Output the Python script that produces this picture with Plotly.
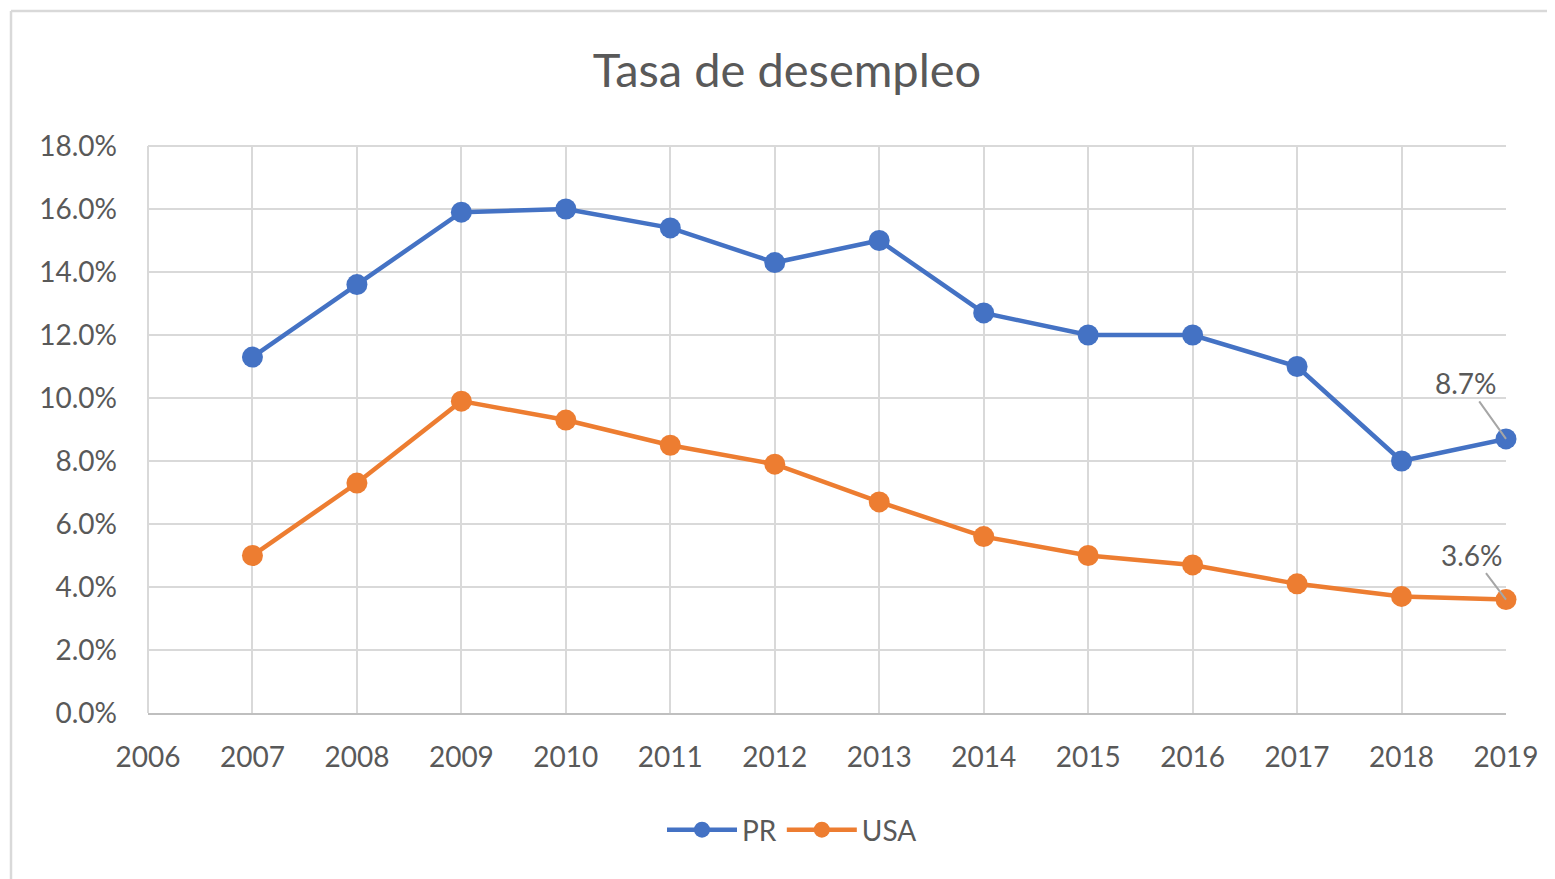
import plotly.graph_objects as go

years = [2007, 2008, 2009, 2010, 2011, 2012, 2013, 2014, 2015, 2016, 2017, 2018, 2019]
pr = [11.3, 13.6, 15.9, 16.0, 15.4, 14.3, 15.0, 12.7, 12.0, 12.0, 11.0, 8.0, 8.7]
usa = [5.0, 7.3, 9.9, 9.3, 8.5, 7.9, 6.7, 5.6, 5.0, 4.7, 4.1, 3.7, 3.6]
title = "Tasa de desempleo"
font_family = "Lato, Calibri, Carlito, sans-serif"
text_color = "#595959"

OFF = 8  # default page body margin
W, H = 1555 - OFF, 879 - OFF
L, T = 148 - OFF, 146 - OFF
R = W - (1506 - OFF)
B = H - (713 - OFF)
pw, ph = W - L - R, H - T - B

fig = go.Figure()
fig.add_trace(go.Scatter(x=years, y=pr, name="PR", mode="lines+markers",
                         line=dict(color="#4472C4", width=4.5), cliponaxis=False,
                         marker=dict(size=21, color="#4472C4")))
fig.add_trace(go.Scatter(x=years, y=usa, name="USA", mode="lines+markers",
                         line=dict(color="#ED7D31", width=4.5), cliponaxis=False,
                         marker=dict(size=21, color="#ED7D31")))

for yv, ax, ay in [(pr[-1], -40, -56), (usa[-1], -34, -45)]:
    fig.add_annotation(x=years[-1], y=yv, text=f"{yv:.1f}%", showarrow=True,
                       arrowhead=0, arrowwidth=2, arrowcolor="#a6a6a6", standoff=0,
                       ax=ax, ay=ay, font=dict(size=28, color=text_color, family=font_family))

# plot-area top and left edges
fig.add_shape(type="line", xref="paper", yref="paper", x0=0, x1=1, y0=1, y1=1,
              line=dict(color="#d9d9d9", width=2), layer="below")
fig.add_shape(type="line", xref="paper", yref="paper", x0=0, x1=0, y0=0, y1=1,
              line=dict(color="#d9d9d9", width=2), layer="below")

# outer chart border (Excel chart area)
bx0 = (11 - OFF - L) / pw
by1 = (H - B - (11 - OFF)) / ph
fig.add_shape(type="line", xref="paper", yref="paper", x0=bx0, x1=bx0, y0=by1, y1=-1,
              line=dict(color="#d9d9d9", width=2.5))
fig.add_shape(type="line", xref="paper", yref="paper", x0=bx0, x1=2, y0=by1, y1=by1,
              line=dict(color="#d9d9d9", width=2.5))

fig.update_layout(
    width=W, height=H,
    margin=dict(l=L, r=R, t=T, b=B),
    paper_bgcolor="white", plot_bgcolor="white",
    title=dict(text=title, x=(787 - OFF) / W, xanchor="center",
               y=1 - (71 - OFF) / H, yanchor="middle",
               font=dict(size=47, color=text_color, family=font_family)),
    font=dict(family=font_family, color=text_color, size=28),
    xaxis=dict(range=[2006, 2019], dtick=1, tick0=2006, showgrid=True,
               gridcolor="#d9d9d9", gridwidth=2, showline=True, linecolor="#bfbfbf",
               linewidth=2, zeroline=False, ticks="", ticklen=0,
               tickfont=dict(size=28, color=text_color), ticklabelstandoff=18),
    yaxis=dict(range=[0, 18], dtick=2, showgrid=True, gridcolor="#d9d9d9", gridwidth=2,
               zeroline=False, showline=False, ticksuffix="%", tickformat=".1f",
               tickfont=dict(size=28, color=text_color), ticklabelstandoff=30),
    legend=dict(orientation="h", x=(792 - 148) / pw, xanchor="center", y=-(830 - 713) / ph,
                yanchor="middle", font=dict(size=28, color=text_color), itemwidth=70),
    showlegend=True,
)

fig.write_html("out.html")
